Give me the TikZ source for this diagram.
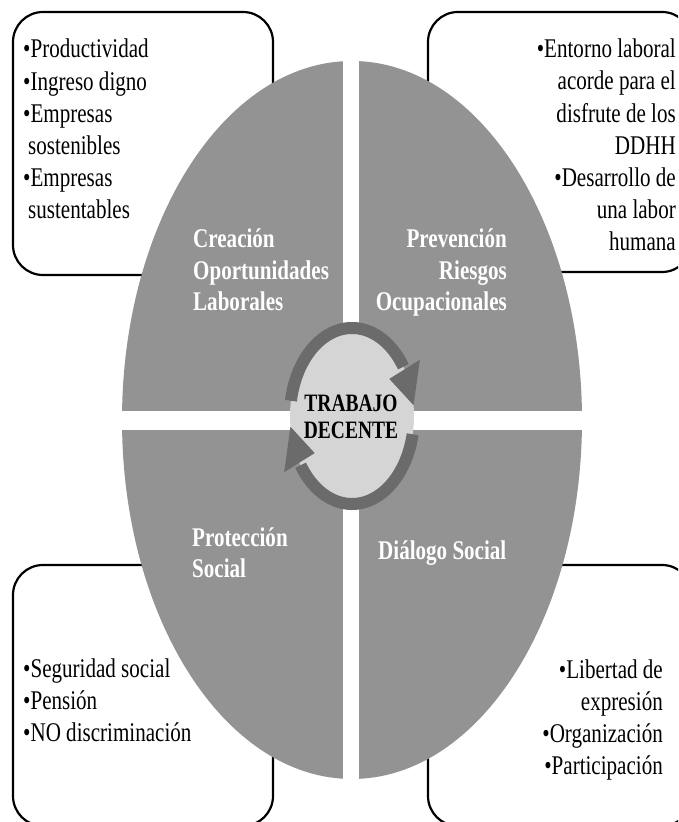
\documentclass[tikz,border=0pt]{standalone}
\usepackage{fontspec}
\setmainfont{Liberation Serif}[FakeStretch=0.78]
\definecolor{quadgray}{HTML}{939393}
\definecolor{hubgray}{HTML}{D5D5D5}
\definecolor{ringgray}{HTML}{6B6B6B}
\tikzset{
  itembox/.style={draw=black, line width=2.2pt, rounded corners=30pt, fill=white},
  quadlabel/.style={text=white, font=\fontsize{27}{31.6}\selectfont\bfseries, inner sep=0pt},
  itemtext/.style={text=black, font=\fontsize{27}{32.2}\selectfont, inner sep=0pt},
  ringline/.style={draw=ringgray, line width=12pt},
}
\begin{document}
\begin{tikzpicture}[x=1pt,y=1pt]
\useasboundingbox (0,0) rectangle (678,822);
\clip (0,0) rectangle (678,822);
\fill[white] (0,0) rectangle (678,822);
% corner boxes
\draw[itembox] (13,547) rectangle (273,810);
\draw[itembox] (428,550) rectangle (692,810);
\draw[itembox] (13,-4) rectangle (273,257);
\draw[itembox] (428,-4) rectangle (692,257);
% big ellipse
\fill[quadgray] (352,402) ellipse [x radius=230, y radius=359];
\fill[white] (343,30) rectangle (359,790);
\fill[white] (100,392) rectangle (600,411);
% hub
\coordinate (hubc) at (352,406);
\fill[hubgray] (hubc) ellipse [x radius=62, y radius=88];
\draw[ringline] (hubc) ++(170:62 and 88) arc [start angle=170, end angle=34, x radius=62, y radius=88];
\fill[ringgray] ([shift={(32:80 and 106)}]hubc) -- ([shift={(32:44 and 70)}]hubc) -- ([shift={(7:62 and 88)}]hubc) -- cycle;
\draw[ringline] (hubc) ++(348:62 and 88) arc [start angle=348, end angle=214, x radius=62, y radius=88];
\fill[ringgray] ([shift={(212:80 and 106)}]hubc) -- ([shift={(212:44 and 70)}]hubc) -- ([shift={(187:62 and 88)}]hubc) -- cycle;
\node[font=\fontsize{25}{27.5}\selectfont\bfseries, align=center, inner sep=0pt, anchor=base] (hub) at (351,383) {TRABAJO\\DECENTE};
% quadrant labels (anchored at the baseline of the last line)
\node[quadlabel, align=left, anchor=base west] (q1) at (193,511) {Creación\\Oportunidades\\Laborales};
\node[quadlabel, align=right, anchor=base east] (q2) at (507,511) {Prevención\\Riesgos\\Ocupacionales};
\node[quadlabel, align=left, anchor=base west] (q3) at (192,244) {Protección\\Social};
\node[quadlabel, anchor=base west] (q4) at (378,262) {Diálogo Social};
% item texts (anchored at the baseline of the last line)
\node[itemtext, align=left, anchor=base west] (t1) at (23,603) {•Productividad\\•Ingreso digno\\•Empresas\\\hspace*{5pt}sostenibles\\•Empresas\\\hspace*{5pt}sustentables};
\node[itemtext, align=right, anchor=base east] (t2) at (676,571) {•Entorno laboral\\acorde para el\\disfrute de los\\DDHH\\•Desarrollo de\\una labor\\humana};
\node[itemtext, align=left, anchor=base west] (t3) at (23,80) {•Seguridad social\\•Pensión\\•NO discriminación};
\node[itemtext, align=right, anchor=base east] (t4) at (663,47) {•Libertad de\\expresión\\•Organización\\•Participación};
\end{tikzpicture}
\end{document}
